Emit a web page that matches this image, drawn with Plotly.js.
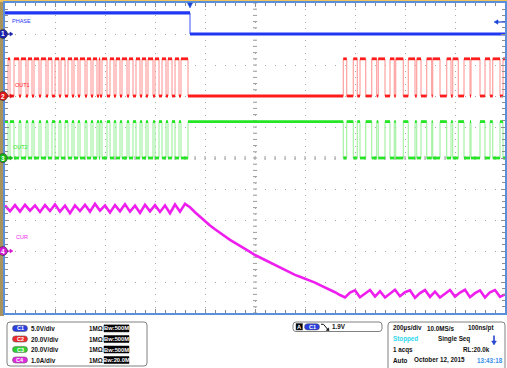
<!DOCTYPE html>
<html><head><meta charset="utf-8">
<script src="https://cdn.plot.ly/plotly-3.0.1.min.js"></script>
<style>html,body{margin:0;padding:0;background:#fff;overflow:hidden}#chart{width:507px;height:368px}</style>
</head><body><div id="chart"></div>
<script>
// ================= DATA =================
// time axis, microseconds relative to trigger (200 us/div, 10 div)
const timeRangeUs = [-740, 1260];

// CH1 PHASE (volts), step waveform
const phaseTimesUs = [-740, 0, 1260];
const phaseVolts   = [3.4, 0, 0];

// CH2 OUT1: switching instants (us); starts low, toggles at each instant
const out1EdgesUs = [
  -728,-720, -704,-684, -676,-656, -648,-632, -624,-604, -596,-576, -568,-552,
  -540,-524, -516,-500, -488,-472, -464,-448, -440,-420, -412,-396, -388,-372,
  -364,-360, -352,-332, -320,-304, -296,-280, -272,-252, -244,-228, -216,-200,
  -192,-176, -168,-148, -140,-124, -112,-96, -88,-72, -60,-44, -36,-8,
  613,627, 653,669, 680,703, 727,747, 753,780, 800,817, 823,853, 873,900,
  907,924, 947,967, 971,1000, 1027,1044, 1051,1073, 1096,1120, 1124,1160,
  1180,1200, 1211,1240, 1252
];
const out1HighVolts = 24;
// CH3 OUT2: switches complementary to OUT1 at the same instants; starts high
const out2EdgesUs = out1EdgesUs;
const out2HighVolts = 23.5;

// CH4 CUR (amps), sampled every 20 us from -740 us
const curStartUs = -740;
const curStepUs = 20;
const curAmps = [
  1.47,1.28,1.48,1.27,1.49,1.30,1.47,1.26,1.48,1.29,1.50,1.27,1.46,1.22,1.47,1.29,
  1.49,1.27,1.52,1.30,1.47,1.24,1.48,1.28,1.51,1.27,1.46,1.23,1.49,1.28,1.48,1.26,
  1.47,1.22,1.50,1.27,1.52,
  1.41,1.25,1.10,0.96,0.82,0.70,0.58,0.47,0.36,0.26,0.17,0.08,-0.03,-0.13,-0.21,
  -0.29,-0.37,-0.45,-0.53,-0.62,-0.70,-0.77,-0.83,-0.89,-0.95,-1.02,-1.10,-1.17,
  -1.25,-1.33,-1.42,
  -1.50,-1.34,-1.27,-1.49,-1.36,-1.26,-1.47,-1.30,-1.50,-1.37,-1.25,-1.46,-1.33,
  -1.27,-1.51,-1.36,-1.26,-1.48,-1.31,-1.50,-1.38,-1.26,-1.47,-1.34,-1.25,-1.49,
  -1.36,-1.27,-1.50,-1.33,-1.26,-1.48,-1.40
];

// channel settings shown in the readout
const chLabels   = ['PHASE', 'OUT1', 'OUT2', 'CUR'];
const chIds      = ['C1', 'C2', 'C3', 'C4'];
const chScaleTxt = ['5.0V/div', '20.0V/div', '20.0V/div', '1.0A/div'];
const chPerDiv   = [5, 20, 20, 1];
const chBwTxt    = ['500M', '500M', '500M', '20.0M'];
const trigLevelTxt = '1.9V';
const timebaseTxt = ['200µs/div', '10.0MS/s', '100ns/pt'];
const acqTxt = ['Stopped', 'Single Seq', '1 acqs', 'RL:20.0k', 'Auto', 'October 12, 2015', '13:43:18'];

// ================= STYLE / POSITION =================
const chZeroDiv  = [9, 7, 5, 2];
const chColor    = ['#1f36f2', '#ff1c1c', '#25e625', '#ee1eee'];
const chEdgeCol  = ['#3b50f5', '#ff8e8e', '#95ef95', '#f070f0'];
const chMarkCol  = ['#1b22b0', '#e01515', '#14b814', '#d417d4'];
const pillCol    = ['#2a3ee0', '#ef2a2a', '#2fd02f', '#e02ae0'];

const toDiv = (v, ch) => v == null ? null : chZeroDiv[ch] + v / chPerDiv[ch];

function stepData(edges, startHigh, highV) {
  const xs = [timeRangeUs[0]], vs = [startHigh ? highV : 0];
  let s = startHigh;
  edges.forEach(e => { s = !s; xs.push(e); vs.push(s ? highV : 0); });
  xs.push(timeRangeUs[1]); vs.push(vs[vs.length - 1]);
  return {xs, vs};
}
function levels(xs, vs) {
  const X = [], Y = [];
  for (let i = 0; i < xs.length - 1; i++) { X.push(xs[i], xs[i + 1], null); Y.push(vs[i], vs[i], null); }
  return {X, Y};
}

const traces = [];
function addStep(xs, vs, ch, wLevel) {
  traces.push({x: xs, y: vs.map(v => toDiv(v, ch)), mode: 'lines', line: {shape: 'hv', color: chEdgeCol[ch], width: 1}, hoverinfo: 'skip'});
  const L = levels(xs, vs);
  traces.push({x: L.X, y: L.Y.map(v => toDiv(v, ch)), mode: 'lines', line: {color: chColor[ch], width: wLevel}, connectgaps: false, hoverinfo: 'skip'});
}
const o2 = stepData(out2EdgesUs, true, out2HighVolts);
addStep(o2.xs, o2.vs, 2, 2.8);
const o1 = stepData(out1EdgesUs, false, out1HighVolts);
addStep(o1.xs, o1.vs, 1, 2.8);
traces.push({x0: curStartUs, dx: curStepUs, y: curAmps.map(v => toDiv(v, 3)), mode: 'lines', line: {color: chColor[3], width: 2.6}, hoverinfo: 'skip'});
addStep(phaseTimesUs, phaseVolts, 0, 3.2);

// ================= DECORATION =================
const PX = x => (x - 5) / 500;
const PY = y => (313 - y) / 310;
const shapes = [];
const annotations = [];
const p = (x, y) => x + ',' + (-y);
function pxShape(path, fill, line, width, layer) {
  shapes.push({type: 'path', xref: 'paper', yref: 'paper', xsizemode: 'pixel', ysizemode: 'pixel',
    xanchor: PX(0), yanchor: PY(0), path: path, fillcolor: fill || 'rgba(0,0,0,0)',
    line: {color: line || 'rgba(0,0,0,0)', width: width || 0}, layer: layer || 'above'});
}
function rr(x0, y0, x1, y1, r) {
  return 'M' + p(x0 + r, y0) + ' L' + p(x1 - r, y0) + ' Q' + p(x1, y0) + ' ' + p(x1, y0 + r) +
    ' L' + p(x1, y1 - r) + ' Q' + p(x1, y1) + ' ' + p(x1 - r, y1) + ' L' + p(x0 + r, y1) +
    ' Q' + p(x0, y1) + ' ' + p(x0, y1 - r) + ' L' + p(x0, y0 + r) + ' Q' + p(x0, y0) + ' ' + p(x0 + r, y0) + ' Z';
}
function txt(t, x, y, color, size, weight, anchor) {
  annotations.push({xref: 'paper', yref: 'paper', x: PX(x), y: PY(y), text: t, showarrow: false,
    xanchor: anchor || 'left', yanchor: 'middle', borderpad: 0,
    font: {family: 'Liberation Sans, Arial, sans-serif', size: size, color: color, weight: weight || 'normal'}});
}

// frame strips
shapes.push({type: 'rect', xref: 'paper', yref: 'paper', x0: PX(0), x1: PX(4), y0: PY(316), y1: PY(0), fillcolor: '#a8935c', line: {width: 0}, layer: 'below'});
shapes.push({type: 'rect', xref: 'paper', yref: 'paper', x0: PX(0), x1: PX(507), y0: PY(2), y1: PY(0), fillcolor: '#f2c25a', line: {width: 0}, layer: 'below'});

// centre-line tick marks
let vPath = '', hPath = '';
for (let i = 0; i <= 50; i++) { const d = i * 0.2; vPath += 'M252,' + d + ' L268,' + d + ' '; }
for (let t = -740; t <= 1260; t += 40) { hPath += 'M' + t + ',4.935 L' + t + ',5.065 '; }
shapes.push({type: 'path', xref: 'x', yref: 'y', path: vPath, line: {color: '#9a9a9a', width: 1}, layer: 'below'});
shapes.push({type: 'path', xref: 'x', yref: 'y', path: hPath, line: {color: '#9a9a9a', width: 1}, layer: 'below'});

// channel ground markers
const markerY = [34, 96, 158, 251];
for (let c = 0; c < 4; c++) {
  const y = markerY[c];
  pxShape('M' + p(7, y) + ' L' + p(11, y), null, chMarkCol[c], 1.2);
  pxShape('M' + p(10, y - 2) + ' L' + p(13, y) + ' L' + p(10, y + 2) + ' Z', chMarkCol[c], chMarkCol[c], 0.5);
  shapes.push({type: 'circle', xref: 'paper', yref: 'paper', xsizemode: 'pixel', ysizemode: 'pixel',
    xanchor: PX(0), yanchor: PY(0), x0: -1.5, x1: 7.5, y0: -(y + 4.5), y1: -(y - 4.5),
    fillcolor: chMarkCol[c], line: {color: '#333', width: 0.6}});
  txt(String(c + 1), 3, y, '#fff', 6.5, 'bold', 'center');
}
// trace labels
txt(chLabels[0], 11, 21, chColor[0], 5.5);
txt(chLabels[1], 14, 85, chColor[1], 5.5);
txt(chLabels[2], 12, 147, chColor[2], 5.5);
txt(chLabels[3], 15, 237, chColor[3], 5.5);

// trigger position and level markers
pxShape('M' + p(187.5, 3) + ' L' + p(192.5, 3) + ' L' + p(190, 8) + ' Z', '#1a44d8', '#1a44d8', 0.5);
pxShape('M' + p(497, 22) + ' L' + p(505, 22), null, '#1a44d8', 1.2);
pxShape('M' + p(494, 22) + ' L' + p(498, 19.8) + ' L' + p(498, 24.2) + ' Z', '#1a44d8', '#1a44d8', 0.5);

// readout boxes
pxShape(rr(7, 322, 147, 366, 3), '#fff', '#808080', 1);
pxShape(rr(293, 322, 382, 331.5, 3), '#fff', '#808080', 1);
pxShape(rr(388, 322, 505, 372, 3), '#fff', '#808080', 1);

const rowY = [328.4, 339, 349.5, 360];
const info = {size: 6.3, col: '#111'};
for (let c = 0; c < 4; c++) {
  const y = rowY[c];
  pxShape(rr(12.5, y - 3.1, 27.5, y + 3.1, 3), pillCol[c], '#555', 0.5);
  txt(chIds[c], 20, y, '#fff', 5.5, 'bold', 'center');
  txt(chScaleTxt[c], 30, y, info.col, info.size, 'bold');
  txt('1MΩ', 88, y, info.col, info.size, 'bold');
  pxShape('M' + p(104, y - 3.5) + ' L' + p(129, y - 3.5) + ' L' + p(129, y + 3.5) + ' L' + p(104, y + 3.5) + ' Z', '#000', '#000', 0.5);
  txt('Bw:' + chBwTxt[c], 116.5, y, '#fff', 5.8, 'bold', 'center');
}
// trigger readout
pxShape('M' + p(296, 323.5) + ' L' + p(302.5, 323.5) + ' L' + p(302.5, 330) + ' L' + p(296, 330) + ' Z', '#000', '#444', 0.5);
txt('A', 299.25, 326.8, '#fff', 5.8, 'bold', 'center');
pxShape(rr(304.5, 323.7, 319.5, 329.9, 3), pillCol[0], '#555', 0.5);
txt('C1', 312, 326.8, '#fff', 5.5, 'bold', 'center');
pxShape('M' + p(321, 324.3) + ' L' + p(323.5, 324.3) + ' L' + p(328.5, 330.3), null, '#111', 1);
pxShape('M' + p(326.2, 330.4) + ' L' + p(329, 330.6) + ' L' + p(328.6, 327.8) + ' Z', '#111', '#111', 0.5);
txt(trigLevelTxt, 331, 326.8, info.col, info.size, 'bold');

// timebase / acquisition readout
txt(timebaseTxt[0], 391.5, 328.4, info.col, info.size, 'bold');
txt(timebaseTxt[1], 426, 328.4, info.col, info.size, 'bold');
txt(timebaseTxt[2], 466.5, 328.4, info.col, info.size, 'bold');
txt(acqTxt[0], 391.5, 339, '#2fd6ec', info.size, 'bold');
txt(acqTxt[1], 436.5, 339, info.col, info.size, 'bold');
pxShape('M' + p(494, 335.5) + ' L' + p(494, 342), null, '#2747d0', 1.6);
pxShape('M' + p(491.6, 341) + ' L' + p(496.4, 341) + ' L' + p(494, 345) + ' Z', '#2747d0', '#2747d0', 0.5);
txt(acqTxt[2], 391.5, 349.5, info.col, info.size, 'bold');
txt(acqTxt[3], 461.5, 349.5, info.col, info.size, 'bold');
txt(acqTxt[4], 391.5, 360, info.col, info.size, 'bold');
txt(acqTxt[5], 413, 360, info.col, info.size, 'bold');
txt(acqTxt[6], 475.5, 360, '#3a8ee8', info.size, 'bold');

const axisCommon = {showline: true, linecolor: '#5b8fd9', linewidth: 2, mirror: 'ticks', ticks: 'inside',
  ticklen: 4, tickcolor: '#8c8c8c', tickwidth: 1, showticklabels: false, showgrid: true,
  gridcolor: '#a9a9a9', gridwidth: 1, zeroline: false, fixedrange: true};

const layout = {
  width: 507, height: 368, margin: {l: 5, r: 2, t: 3, b: 55, pad: 0},
  paper_bgcolor: '#ffffff', plot_bgcolor: '#ffffff', showlegend: false,
  xaxis: Object.assign({}, axisCommon, {range: timeRangeUs, tick0: -540, dtick: 200, griddash: '1px,5.2px',
    minor: {tick0: -540, dtick: 40, ticks: 'inside', ticklen: 3, tickcolor: '#8c8c8c', showgrid: false}}),
  yaxis: Object.assign({}, axisCommon, {range: [0, 10], tick0: 0, dtick: 1, griddash: '1px,9px',
    minor: {tick0: 0, dtick: 0.2, ticks: 'inside', ticklen: 3, tickcolor: '#8c8c8c', showgrid: false}}),
  shapes: shapes, annotations: annotations
};
Plotly.newPlot('chart', traces, layout, {staticPlot: true, displayModeBar: false});
</script>
</body></html>
